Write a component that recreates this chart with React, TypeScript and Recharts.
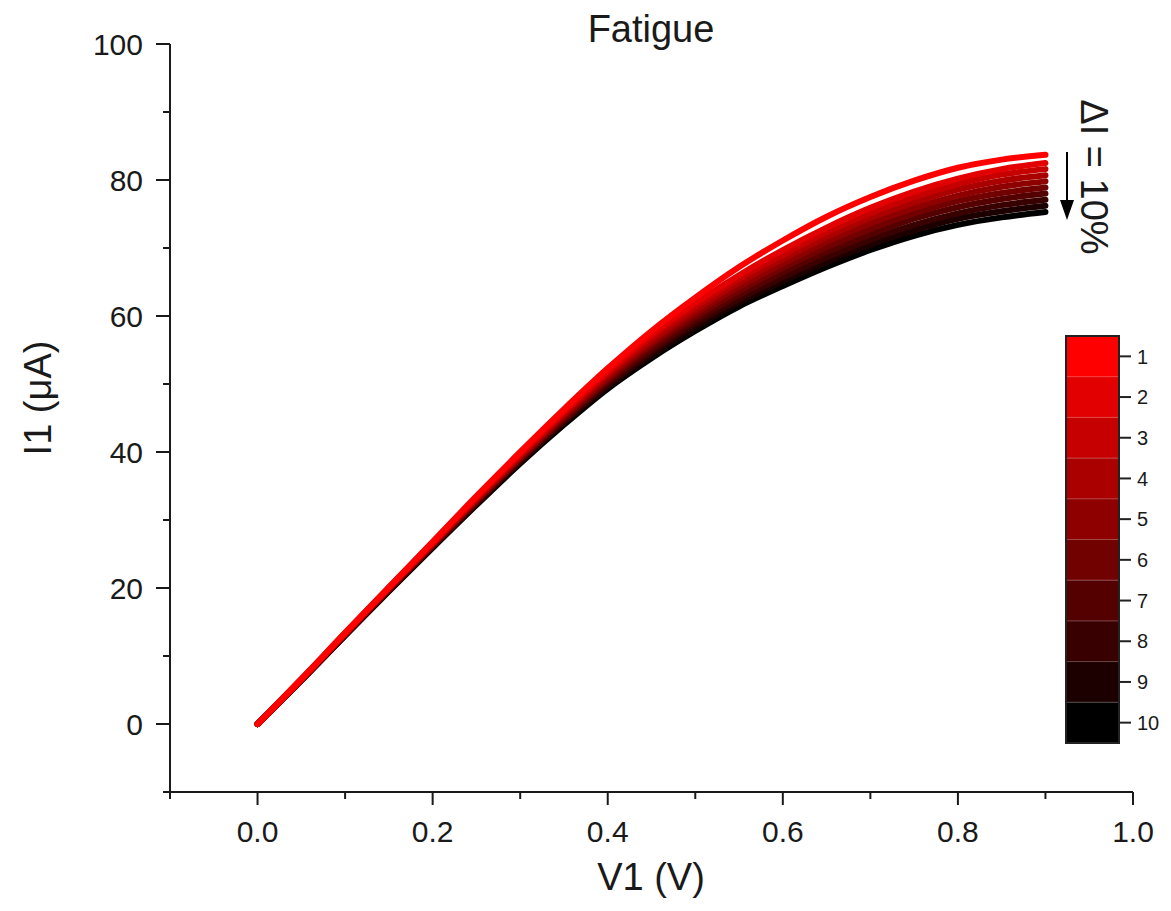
import React from 'react';
import { LineChart, Line, XAxis, YAxis } from 'recharts';

const voltage = [0, 0.05, 0.1, 0.15, 0.2, 0.25, 0.3, 0.35, 0.4, 0.45, 0.5, 0.55, 0.6, 0.65, 0.7, 0.75, 0.8, 0.85, 0.9];

const cycle1 = [0, 6.6, 13.4, 20.1, 26.8, 33.5, 40.0, 46.3, 52.3, 57.8, 62.7, 67.2, 71.1, 74.6, 77.5, 79.9, 81.8, 83.0, 83.7];
const cycle2 = [0, 6.6, 13.4, 20.1, 26.7, 33.4, 39.8, 46.0, 51.9, 57.3, 61.9, 66.0, 69.7, 73.0, 75.9, 78.3, 80.2, 81.6, 82.5];
const cycle3 = [0, 6.6, 13.3, 20.0, 26.6, 33.2, 39.6, 45.8, 51.6, 56.9, 61.4, 65.5, 69.0, 72.3, 75.1, 77.5, 79.4, 80.8, 81.6];
const cycle4 = [0, 6.5, 13.3, 20.0, 26.5, 33.1, 39.4, 45.5, 51.3, 56.4, 60.9, 64.9, 68.4, 71.6, 74.4, 76.7, 78.6, 79.9, 80.7];
const cycle5 = [0, 6.5, 13.2, 19.9, 26.4, 32.9, 39.2, 45.3, 50.9, 56.0, 60.4, 64.3, 67.7, 70.9, 73.6, 75.9, 77.7, 79.0, 79.8];
const cycle6 = [0, 6.5, 13.2, 19.8, 26.3, 32.8, 39.1, 45.0, 50.6, 55.6, 59.9, 63.7, 67.1, 70.1, 72.8, 75.1, 76.9, 78.1, 78.9];
const cycle7 = [0, 6.5, 13.1, 19.7, 26.2, 32.6, 38.9, 44.8, 50.3, 55.1, 59.4, 63.1, 66.4, 69.4, 72.0, 74.3, 76.0, 77.2, 78.0];
const cycle8 = [0, 6.4, 13.1, 19.7, 26.1, 32.5, 38.7, 44.5, 49.9, 54.7, 58.9, 62.5, 65.7, 68.6, 71.2, 73.4, 75.1, 76.3, 77.1];
const cycle9 = [0, 6.4, 13.0, 19.6, 26.0, 32.3, 38.5, 44.3, 49.6, 54.2, 58.3, 62.0, 65.1, 67.9, 70.5, 72.6, 74.3, 75.4, 76.2];
const cycle10 = [0, 6.4, 13.0, 19.5, 25.9, 32.2, 38.3, 44.0, 49.3, 53.8, 57.8, 61.4, 64.4, 67.2, 69.7, 71.8, 73.4, 74.5, 75.3];

const cycles = [cycle1, cycle2, cycle3, cycle4, cycle5, cycle6, cycle7, cycle8, cycle9, cycle10];
const cycleColors = ['#ff0000', '#e30000', '#c60000', '#aa0000', '#8e0000', '#710000', '#550000', '#390000', '#1c0000', '#000000'];
const cycleLabels = ['1', '2', '3', '4', '5', '6', '7', '8', '9', '10'];

const xMajorTicks = [0, 0.2, 0.4, 0.6, 0.8, 1.0];
const xMinorTicks = [-0.1, 0.1, 0.3, 0.5, 0.7, 0.9];
const yMajorTicks = [0, 20, 40, 60, 80, 100];
const yMinorTicks = [-10, 10, 30, 50, 70, 90];

const titleText = 'Fatigue';
const xLabelText = 'V1 (V)';
const yLabelText = 'I1 (\u03bcA)';
const deltaText = '\u0394I = 10%';

const data = voltage.map((v, i) => {
  const row: Record<string, number> = { v };
  cycles.forEach((c, j) => {
    row['c' + (j + 1)] = c[i];
  });
  return row;
});

const xTicks = [...xMajorTicks, ...xMinorTicks].sort((a, b) => a - b);
const yTicks = [...yMajorTicks, ...yMinorTicks].sort((a, b) => a - b);

const FONT = '"Liberation Sans", Arial, Helvetica, sans-serif';
const INK = '#1a1a1a';

const isIn = (arr: number[], v: number) => arr.some((a) => Math.abs(a - v) < 1e-6);

const XTick = (props: any) => {
  const { x, y, payload } = props;
  const major = isIn(xMajorTicks, payload.value);
  return (
    <g>
      <line x1={x} x2={x} y1={y} y2={y + (major ? 13 : 7)} stroke={INK} strokeWidth={2} />
      {major && (
        <text x={x} y={y + 29} dy="0.71em" textAnchor="middle" fontSize={30} fontFamily={FONT} fill={INK}>
          {Number(payload.value).toFixed(1)}
        </text>
      )}
    </g>
  );
};

const YTick = (props: any) => {
  const { x, y, payload } = props;
  const major = isIn(yMajorTicks, payload.value);
  return (
    <g>
      <line x1={x - (major ? 14 : 7)} x2={x} y1={y} y2={y} stroke={INK} strokeWidth={2} />
      {major && (
        <text x={x - 27} y={y} dy="0.36em" textAnchor="end" fontSize={30} fontFamily={FONT} fill={INK}>
          {String(payload.value)}
        </text>
      )}
    </g>
  );
};

const barX = 1066;
const barY = 336;
const barW = 53;
const barH = 407;

export default function App() {
  const cellH = barH / cycleColors.length;
  return (
    <div style={{ position: 'absolute', left: 0, top: 0, width: 1171, height: 911, background: '#ffffff' }}>
      <LineChart width={1171} height={911} data={data} margin={{ top: 44, right: 38, left: 0, bottom: 0 }}>
        <XAxis
          dataKey="v"
          type="number"
          domain={[-0.1, 1.0]}
          ticks={xTicks}
          interval={0}
          height={119}
          tickSize={0}
          tickMargin={0}
          tickLine={false}
          axisLine={{ stroke: INK, strokeWidth: 2 }}
          tick={XTick}
          allowDataOverflow
        />
        <YAxis
          type="number"
          domain={[-10, 100]}
          ticks={yTicks}
          interval={0}
          width={170}
          tickSize={0}
          tickMargin={0}
          tickLine={false}
          axisLine={{ stroke: INK, strokeWidth: 2 }}
          tick={YTick}
          allowDataOverflow
        />
        {cycles
          .map((_, j) => j)
          .reverse()
          .map((j) => (
            <Line
              key={'c' + (j + 1)}
              dataKey={'c' + (j + 1)}
              type="monotone"
              stroke={cycleColors[j]}
              strokeWidth={6}
              strokeLinecap="round"
              strokeLinejoin="round"
              dot={false}
              activeDot={false}
              isAnimationActive={false}
            />
          ))}
      </LineChart>
      <svg
        width={1171}
        height={911}
        style={{ position: 'absolute', left: 0, top: 0, pointerEvents: 'none' }}
      >
        <text x={651} y={42} textAnchor="middle" fontSize={38} fontFamily={FONT} fill={INK}>
          {titleText}
        </text>
        <text x={651} y={890} textAnchor="middle" fontSize={38} fontFamily={FONT} fill={INK}>
          {xLabelText}
        </text>
        <text
          transform="translate(51,398) rotate(-90)"
          textAnchor="middle"
          fontSize={38}
          fontFamily={FONT}
          fill={INK}
        >
          {yLabelText}
        </text>
        <text
          transform="translate(1081,177) rotate(90)"
          textAnchor="middle"
          fontSize={38}
          fontFamily={FONT}
          fill={INK}
        >
          {deltaText}
        </text>
        <line x1={1067} x2={1067} y1={152} y2={204} stroke="#000" strokeWidth={2} />
        <polygon points="1060,200 1074,200 1067,220" fill="#000" />
        {cycleColors.map((c, i) => (
          <rect key={'cell' + i} x={barX} y={barY + i * cellH} width={barW} height={cellH + 0.5} fill={c} />
        ))}
        {cycleColors.slice(1).map((_, i) => (
          <line
            key={'sep' + i}
            x1={barX}
            x2={barX + barW}
            y1={barY + (i + 1) * cellH}
            y2={barY + (i + 1) * cellH}
            stroke="rgba(255,255,255,0.28)"
            strokeWidth={1}
          />
        ))}
        <rect x={barX} y={barY} width={barW} height={barH} fill="none" stroke="#222" strokeWidth={2} />
        {cycleLabels.map((l, i) => {
          const cy = barY + (i + 0.5) * cellH;
          return (
            <g key={'lab' + i}>
              <line x1={barX + barW} x2={barX + barW + 12} y1={cy} y2={cy} stroke="#222" strokeWidth={2} />
              <text x={barX + barW + 18} y={cy} dy="0.36em" fontSize={20} fontFamily={FONT} fill={INK}>
                {l}
              </text>
            </g>
          );
        })}
      </svg>
    </div>
  );
}
